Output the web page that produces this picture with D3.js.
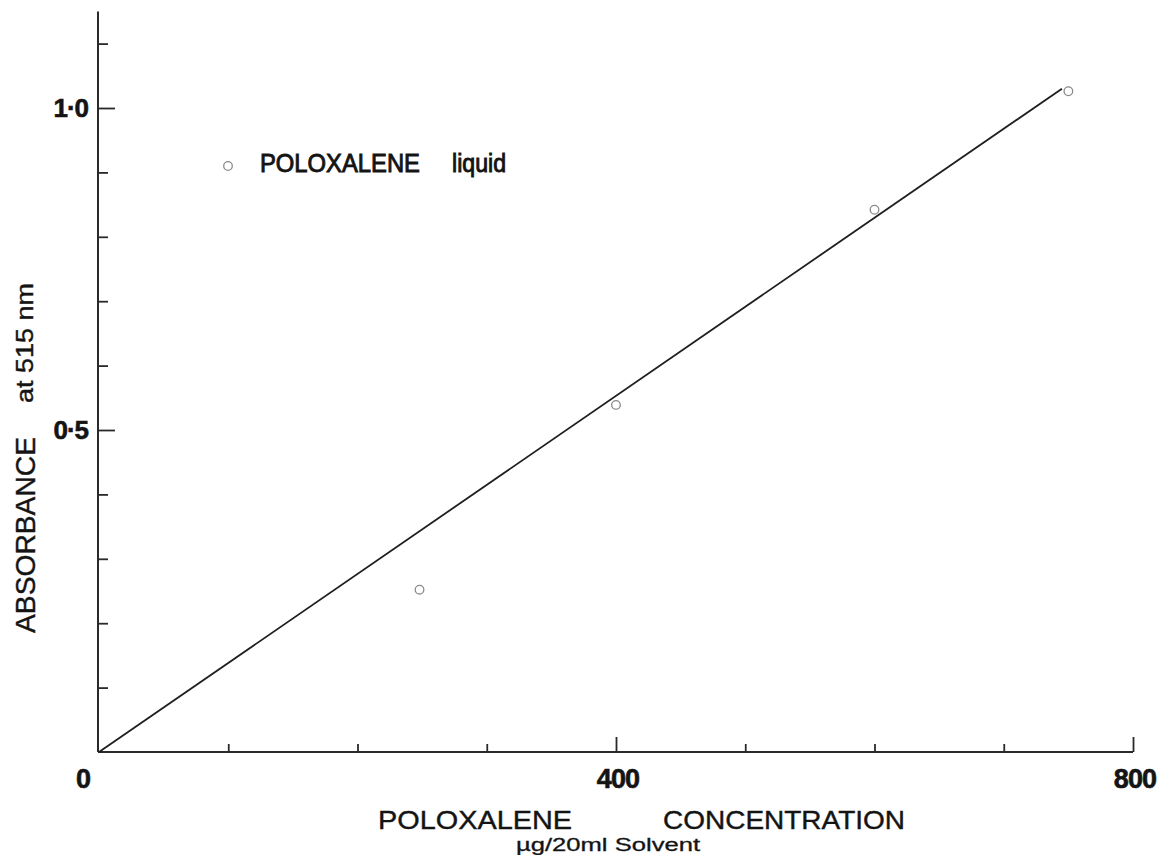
<!DOCTYPE html>
<html>
<head>
<meta charset="utf-8">
<script src="https://cdn.jsdelivr.net/npm/d3@7"></script>
<style>
  html, body { margin: 0; padding: 0; background: #fff; }
  svg { display: block; }
  text { font-family: "Liberation Sans", Arial, Helvetica, sans-serif; fill: #141414; }
</style>
</head>
<body>
<svg id="chart" width="1163" height="855"></svg>
<script>
// Calibration data: poloxalene liquid, absorbance at 515 nm
const concentration = [248, 400, 600, 750];        // µg / 20 ml solvent
const absorbance    = [0.252, 0.539, 0.842, 1.026];

// Fitted calibration line (start and end)
const fitX = [0, 745];
const fitY = [0, 1.030];

// Ticks
const xTicks      = [100, 200, 300, 400, 500, 600, 700, 800];
const xMajor      = [400, 800];
const xLabels     = ["0", "400", "800"];
const xLabelVals  = [0, 400, 800];
const yTicks      = [0.1, 0.2, 0.3, 0.4, 0.5, 0.6, 0.7, 0.8, 0.9, 1.0, 1.1];
const yMajor      = [0.5, 1.0];
const yLabels     = ["0·5", "1·0"];
const yLabelVals  = [0.5, 1.0];

const svg = d3.select("#chart");

const x = d3.scaleLinear().domain([0, 800]).range([99, 1133]);
const y = d3.scaleLinear().domain([0, 1.15]).range([752, 752 - 1.15 * 644]);
const axisX0 = 98;

const isMajor = (list, v) => list.some(m => Math.abs(m - v) < 1e-9);

// X axis (ticks point up into the plot)
const gx = svg.append("g")
  .attr("transform", `translate(0,${y(0)})`)
  .call(d3.axisBottom(x).tickValues(xTicks).tickSize(-8).tickFormat(""));
gx.selectAll(".tick line")
  .attr("y2", d => isMajor(xMajor, d) ? -15 : -8);

// Y axis (ticks point right into the plot)
const gy = svg.append("g")
  .attr("transform", `translate(${axisX0},0)`)
  .call(d3.axisLeft(y).tickValues(yTicks).tickSize(-10).tickFormat(""));
gy.selectAll(".tick line")
  .attr("x2", d => isMajor(yMajor, d) ? 17 : 10);

[gx, gy].forEach(g => {
  g.select(".domain").attr("stroke", "#2a2a2a").attr("stroke-width", 2);
  g.selectAll(".tick line").attr("stroke", "#2a2a2a").attr("stroke-width", 1.8);
});
// axes run from the origin without end caps
gx.select(".domain").attr("d", `M${axisX0},0H${x(800)}`);
gy.select(".domain").attr("d", `M0,${y(0)}V${y(1.15)}`);

// Tick labels
svg.append("g").selectAll("text")
  .data(xLabelVals)
  .join("text")
  .attr("x", (d, i) => i === 0 ? 83 : x(d) + 2)
  .attr("y", 788)
  .attr("text-anchor", "middle")
  .attr("font-size", 27)
  .attr("font-weight", "bold")
  .attr("letter-spacing", -0.8)
  .attr("stroke", "#141414").attr("stroke-width", 0.6)
  .text((d, i) => xLabels[i]);

svg.append("g").selectAll("text")
  .data(yLabelVals)
  .join("text")
  .attr("x", 88)
  .attr("y", d => y(d) + 9)
  .attr("text-anchor", "end")
  .attr("font-size", 26)
  .attr("font-weight", "bold")
  .attr("letter-spacing", -1)
  .attr("stroke", "#141414").attr("stroke-width", 0.6)
  .text((d, i) => yLabels[i]);

// Axis titles
const xTitle = svg.append("g")
  .attr("stroke", "#141414").attr("stroke-width", 0.4);
xTitle.append("text")
  .attr("x", 378).attr("y", 829)
  .attr("font-size", 26)
  .attr("textLength", 194).attr("lengthAdjust", "spacingAndGlyphs")
  .text("POLOXALENE");
xTitle.append("text")
  .attr("x", 663).attr("y", 829)
  .attr("font-size", 26)
  .attr("textLength", 242).attr("lengthAdjust", "spacingAndGlyphs")
  .text("CONCENTRATION");
xTitle.append("text")
  .attr("x", 516).attr("y", 851)
  .attr("font-size", 18)
  .attr("stroke-width", 0.3)
  .attr("textLength", 184).attr("lengthAdjust", "spacingAndGlyphs")
  .text("µg/20ml Solvent");

const yTitle = svg.append("g")
  .attr("transform", "translate(35,0) rotate(-90)")
  .attr("stroke", "#141414").attr("stroke-width", 0.4);
yTitle.append("text")
  .attr("x", -633).attr("y", 0)
  .attr("font-size", 28)
  .attr("textLength", 196).attr("lengthAdjust", "spacingAndGlyphs")
  .text("ABSORBANCE");
yTitle.append("text")
  .attr("x", -403).attr("y", -2)
  .attr("font-size", 23)
  .attr("textLength", 120).attr("lengthAdjust", "spacingAndGlyphs")
  .text("at  515 nm");

// Calibration line
const line = d3.line().x(d => x(d[0])).y(d => y(d[1]));
svg.append("path")
  .datum(fitX.map((v, i) => [v, fitY[i]]))
  .attr("d", line)
  .attr("fill", "none")
  .attr("stroke", "#1e1e1e")
  .attr("stroke-width", 1.8);

// Measured points
svg.append("g").selectAll("circle")
  .data(concentration.map((c, i) => [c, absorbance[i]]))
  .join("circle")
  .attr("cx", d => x(d[0]))
  .attr("cy", d => y(d[1]))
  .attr("r", 4.3)
  .attr("fill", "#fff")
  .attr("stroke", "#8a8a8a")
  .attr("stroke-width", 1.3);

// Legend
const legend = svg.append("g");
legend.append("circle")
  .attr("cx", 228).attr("cy", 166).attr("r", 4.3)
  .attr("fill", "#fff").attr("stroke", "#8a8a8a").attr("stroke-width", 1.3);
legend.append("text")
  .attr("x", 260).attr("y", 172)
  .attr("font-size", 25)
  .attr("stroke", "#141414").attr("stroke-width", 0.9)
  .attr("textLength", 160).attr("lengthAdjust", "spacingAndGlyphs")
  .text("POLOXALENE");
legend.append("text")
  .attr("x", 452).attr("y", 172)
  .attr("font-size", 25)
  .attr("stroke", "#141414").attr("stroke-width", 0.9)
  .attr("textLength", 54).attr("lengthAdjust", "spacingAndGlyphs")
  .text("liquid");
</script>
</body>
</html>
